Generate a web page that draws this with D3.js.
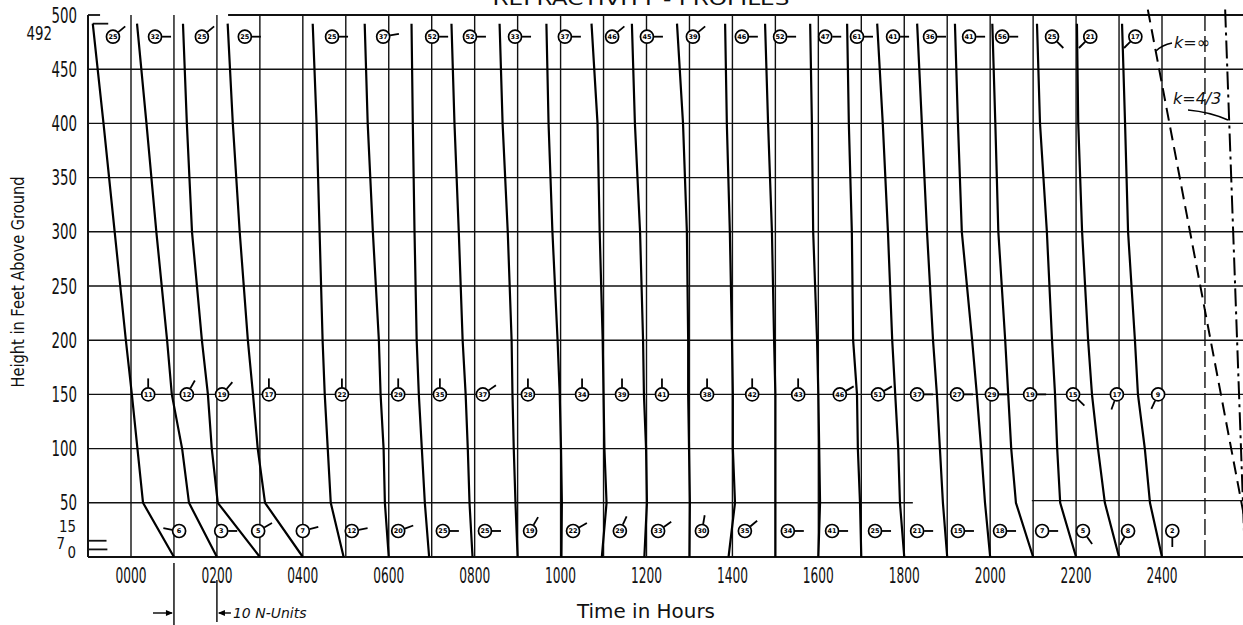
<!DOCTYPE html>
<meta charset="utf-8">
<style>
body { margin: 0; background: #fff; }
svg { display: block; }
.grid { stroke: #111; stroke-width: 1.4px; fill: none; }
.profile { fill: none; stroke: #000; stroke-width: 2.2px; stroke-linejoin: round; }
.num { font-family: 'Liberation Sans Narrow', 'DejaVu Sans Condensed', 'DejaVu Sans', sans-serif; font-size: 21px; fill: #111; }
.lbl { font-family: 'DejaVu Sans', sans-serif; fill: #111; }
.ring circle { fill: #fff; stroke: #000; stroke-width: 1.7px; }
.ring text { font-family: 'DejaVu Sans', sans-serif; font-size: 6.5px; font-weight: bold; fill: #000; }
.ring line { stroke: #000; stroke-width: 1.8px; }
</style>
<svg id="chart" width="1243" height="625"></svg>
<script src="https://d3js.org/d3.v7.min.js"></script>
<script>
// heights (ft) at which each profile is read
const heights = [492, 400, 300, 200, 150, 100, 50, 0];
// profile hours (bottom of each profile sits on its hour line)
const profileHours = d3.range(1, 25);
// offsets in N-units from the hour line, one row per hour, in the order of heights
const profileN = [
  [-18.9, -16.4, -13.8, -11.2, -9.8, -8.5, -7.2, 0],
  [-18.6, -16.4, -14.1, -11.6, -10.5, -8.1, -6.5, 0],
  [-17.9, -17.0, -15.8, -13.5, -12.1, -11.2, -9.8, 0],
  [-17.5, -16.3, -14.7, -12.8, -11.6, -10.5, -8.8, 0],
  [-7.7, -6.8, -6.1, -5.4, -4.9, -4.2, -3.5, -0.5],
  [-5.6, -4.9, -3.7, -2.3, -1.9, -1.2, -0.9, 0],
  [-4.7, -4.4, -4.0, -3.5, -3.0, -2.3, -1.6, -0.6],
  [-5.4, -4.7, -3.7, -2.8, -2.1, -1.6, -1.2, -0.5],
  [-4.2, -3.5, -2.3, -1.4, -1.2, -0.9, -0.5, 0],
  [-3.3, -2.8, -1.9, -0.7, -0.2, 0.1, 0.3, 0.2],
  [-2.8, -1.4, -0.9, -0.2, 0, 0.2, 0.7, -0.4],
  [-3.4, -2.7, -1.5, -0.8, -0.6, -0.1, 0.1, -0.5],
  [-2.9, -1.5, -0.6, -0.3, -0.3, -0.1, 0.1, 0],
  [-1.7, -1.3, -0.6, -0.1, 0.1, 0.1, 0.6, -0.9],
  [-2.4, -1.7, -0.8, -0.3, 0, 0, 0, 0],
  [-1.9, -1.5, -1.2, -0.3, 0, 0.2, 0.4, 0],
  [-3.3, -2.9, -2.2, -1.9, -1.0, -0.8, -0.3, 0],
  [-6.3, -5.0, -3.8, -2.8, -2.1, -1.4, -1.0, 0],
  [-7.0, -5.9, -4.7, -3.3, -2.4, -1.7, -1.0, 0],
  [-8.2, -7.5, -6.6, -4.2, -3.1, -2.1, -1.2, 0],
  [-9.5, -8.8, -8.1, -6.5, -5.8, -5.1, -4.0, 0],
  [-9.1, -8.4, -6.8, -5.6, -4.9, -4.4, -3.7, 0],
  [-9.8, -9.5, -8.6, -7.2, -6.3, -4.9, -3.3, 0],
  [-9.3, -8.6, -7.9, -6.3, -5.6, -4.0, -2.8, 0]
];
// reference gradients, N-units from the 2500 line
const refHeights = [505, 0];
const kInfN = [-13.3, 10.9];
const k43N = [4.7, 9.3];

// circled values: hour position, value, direction of the stub (deg)
const topRowFt = 480;
const topHours = [-0.42, 0.56, 1.65, 2.65, 4.68, 5.87, 7.01, 7.89, 8.94, 10.10, 11.20, 12.01, 13.08, 14.22, 15.11, 16.16, 16.90, 17.74, 18.60, 19.51, 20.28, 21.44, 22.33, 23.38];
const topValues = [25, 32, 25, 25, 25, 37, 52, 52, 33, 37, 46, 45, 39, 46, 52, 47, 61, 41, 36, 41, 56, 25, 21, 17];
const topDirs = [-40, 0, -40, 0, 0, -10, 0, 0, 0, 0, -40, 0, -40, 0, 0, 0, 0, 0, 0, 0, 0, 45, 135, 135];

const midRowFt = 150;
const midHours = [0.40, 1.30, 2.12, 3.21, 4.91, 6.22, 7.19, 8.19, 9.24, 10.50, 11.43, 12.36, 13.41, 14.46, 15.53, 16.50, 17.39, 18.30, 19.23, 20.04, 20.93, 21.93, 22.95, 23.91];
const midValues = [11, 12, 19, 17, 22, 29, 35, 37, 28, 34, 39, 41, 38, 42, 43, 46, 51, 37, 27, 29, 19, 15, 17, 9];
const midDirs = [-90, -60, -50, -90, -90, -90, -90, -35, -90, -90, -90, -90, -90, -90, -90, -30, -30, 0, 0, 0, 0, 45, 110, 115];

const lowRowFt = 24;
const lowHours = [1.12, 2.10, 2.96, 4.00, 5.14, 6.22, 7.26, 8.24, 9.29, 10.29, 11.38, 12.27, 13.29, 14.29, 15.29, 16.32, 17.32, 18.30, 19.25, 20.23, 21.21, 22.16, 23.21, 24.24];
const lowValues = [6, 3, 5, 7, 12, 20, 25, 25, 19, 22, 29, 33, 30, 35, 34, 41, 25, 21, 15, 18, 7, 5, 8, 2];
const lowDirs = [190, 0, -30, -15, -10, -20, 0, 0, -60, -30, -65, -35, -80, -40, 0, 0, 0, 0, 0, 0, 0, 55, 120, 90];

const xTicks = d3.range(0, 25, 2);
const yTicks = d3.range(50, 501, 50);

const svg = d3.select('#chart');
const x = d3.scaleLinear().domain([0, 24]).range([131, 1162]);
const y = d3.scaleLinear().domain([0, 500]).range([557, 15]);
const nUnit = (x(1) - x(0)) / 10;
const hMin = x.invert(88), hMax = x.invert(1243);
const digitW = 8.5;

// title, mostly cut off at the top edge
svg.append('text').attr('class', 'lbl')
  .attr('x', 641).attr('y', 5)
  .attr('text-anchor', 'middle')
  .attr('textLength', 297).attr('lengthAdjust', 'spacingAndGlyphs')
  .style('font-size', '18px')
  .text('REFRACTIVITY - PROFILES');

const grid = svg.append('g');

// horizontal grid
grid.selectAll('line.h')
  .data(yTicks.filter(v => v != 50 && v != 500))
  .join('line').attr('class', 'grid')
  .attr('x1', x(hMin)).attr('x2', x(hMax))
  .attr('y1', d => y(d)).attr('y2', d => y(d));

// 50 ft line in two pieces
const fiftySegs = [[hMin, 18.2, 50], [20.97, hMax, 52]];
grid.selectAll('line.f')
  .data(fiftySegs)
  .join('line').attr('class', 'grid')
  .attr('x1', d => x(d[0])).attr('x2', d => x(d[1]))
  .attr('y1', d => y(d[2])).attr('y2', d => y(d[2]));

// top border and small stubs
grid.append('line').attr('class', 'grid').style('stroke-width', '2px')
  .attr('x1', x(2.26)).attr('x2', x(hMax)).attr('y1', y(500)).attr('y2', y(500));
const stubs = [[500, hMin, -0.72], [492, -0.89, -0.53], [15, hMin, -0.57], [7, hMin, -0.55]];
grid.selectAll('line.s')
  .data(stubs)
  .join('line').attr('class', 'grid').style('stroke-width', '1.8px')
  .attr('x1', d => x(d[1])).attr('x2', d => x(d[2]))
  .attr('y1', d => y(d[0])).attr('y2', d => y(d[0]));

// hour lines
grid.selectAll('line.v')
  .data(d3.range(0, 26))
  .join('line').attr('class', 'grid')
  .attr('x1', d => x(d)).attr('x2', d => x(d))
  .attr('y1', y(500)).attr('y2', y(0))
  .attr('stroke-dasharray', d => d == 25 ? '16,5' : null);

// left axis and bottom axis
grid.append('line').attr('class', 'grid').style('stroke-width', '2px')
  .attr('x1', x(hMin)).attr('x2', x(hMin)).attr('y1', y(500)).attr('y2', y(0));
grid.append('line').attr('class', 'grid').style('stroke-width', '2.2px')
  .attr('x1', x(hMin)).attr('x2', x(hMax)).attr('y1', y(0)).attr('y2', y(0));

// profiles
const line = d3.line();
svg.append('g').selectAll('path')
  .data(profileHours)
  .join('path').attr('class', 'profile')
  .attr('d', (h, i) => line(heights.map((ft, j) => [x(h) + profileN[i][j] * nUnit, y(ft)])));

// reference lines
const refs = [[kInfN, '13,7'], [k43N, '18,5,3,5']];
svg.append('g').selectAll('path')
  .data(refs)
  .join('path').attr('class', 'profile').style('stroke-width', '2px')
  .attr('stroke-dasharray', d => d[1])
  .attr('d', d => line(refHeights.map((ft, j) => [x(25) + d[0][j] * nUnit, y(ft)])));

// k labels with pointer arrows
svg.append('text').attr('class', 'lbl')
  .attr('x', 1174).attr('y', 48)
  .style('font-size', '16px').style('font-style', 'italic')
  .text('k=∞');
svg.append('path').attr('fill', 'none').attr('stroke', '#000').attr('stroke-width', 1.5)
  .attr('d', 'M1172,43 Q1162,45 1156,51');
svg.append('text').attr('class', 'lbl')
  .attr('x', 1173).attr('y', 104)
  .style('font-size', '16px').style('font-style', 'italic')
  .text('k=4/3');
svg.append('path').attr('fill', 'none').attr('stroke', '#000').attr('stroke-width', 1.5)
  .attr('d', 'M1188,110 Q1210,112 1228,120');

// circled values
function rings(hours, values, dirs, ft) {
  const g = svg.append('g').selectAll('g')
    .data(hours.map((h, i) => ({h: h, v: values[i], a: dirs[i]})))
    .join('g').attr('class', 'ring')
    .attr('transform', d => `translate(${x(d.h)},${y(ft)})`);
  g.append('line')
    .attr('x1', d => 7 * Math.cos(d.a * Math.PI / 180))
    .attr('y1', d => 7 * Math.sin(d.a * Math.PI / 180))
    .attr('x2', d => 16 * Math.cos(d.a * Math.PI / 180))
    .attr('y2', d => 16 * Math.sin(d.a * Math.PI / 180));
  g.append('circle').attr('r', 6.5);
  g.append('text').attr('text-anchor', 'middle').attr('dy', '0.36em').text(d => d.v);
}
rings(topHours, topValues, topDirs, topRowFt);
rings(midHours, midValues, midDirs, midRowFt);
rings(lowHours, lowValues, lowDirs, lowRowFt);

// y labels, squeezed to the narrow look of the original lettering
svg.append('g').selectAll('text')
  .data(yTicks)
  .join('text').attr('class', 'num')
  .attr('x', 77).attr('y', d => y(d)).attr('dy', '0.36em')
  .attr('text-anchor', 'end')
  .attr('textLength', d => String(d).length * digitW).attr('lengthAdjust', 'spacingAndGlyphs')
  .text(d => d);
const yExtra = [[492, 52, 9], [15, 76, -15], [7, 65, -6], [0, 76, -5]];
svg.append('g').selectAll('text')
  .data(yExtra)
  .join('text').attr('class', 'num')
  .style('font-size', d => d[0] == 492 ? '19px' : '16px')
  .attr('x', d => d[1]).attr('y', d => y(d[0]) + d[2]).attr('dy', '0.36em')
  .attr('text-anchor', 'end')
  .attr('textLength', d => String(d[0]).length * digitW).attr('lengthAdjust', 'spacingAndGlyphs')
  .text(d => d[0]);

// x labels
svg.append('g').selectAll('text')
  .data(xTicks)
  .join('text').attr('class', 'num')
  .style('font-size', '22px')
  .attr('x', d => x(d)).attr('y', 583)
  .attr('text-anchor', 'middle')
  .attr('textLength', 31).attr('lengthAdjust', 'spacingAndGlyphs')
  .text(d => d3.format('02d')(d) + '00');

// axis titles
svg.append('text').attr('class', 'lbl')
  .attr('x', 646).attr('y', 618)
  .attr('text-anchor', 'middle')
  .attr('textLength', 138).attr('lengthAdjust', 'spacingAndGlyphs')
  .style('font-size', '19px')
  .text('Time in Hours');
svg.append('text').attr('class', 'lbl')
  .attr('transform', 'translate(24,282) rotate(-90)')
  .attr('text-anchor', 'middle')
  .attr('textLength', 211).attr('lengthAdjust', 'spacingAndGlyphs')
  .style('font-size', '17px')
  .text('Height in Feet Above Ground');

// 10 N-units scale note under the axis
const note = svg.append('g').attr('stroke', '#000').attr('stroke-width', 1.4);
note.append('line').attr('x1', x(1)).attr('x2', x(1)).attr('y1', 563).attr('y2', 625);
note.append('line').attr('x1', x(2)).attr('x2', x(2)).attr('y1', 580).attr('y2', 622);
note.append('line').attr('x1', x(1) - 21).attr('x2', x(1) - 2).attr('y1', 613).attr('y2', 613);
note.append('path').attr('fill', '#000').attr('stroke', 'none')
  .attr('d', `M${x(1) - 1},613 l-7,-3 v6 z`);
note.append('line').attr('x1', x(2) + 2).attr('x2', x(2) + 14).attr('y1', 613).attr('y2', 613);
note.append('path').attr('fill', '#000').attr('stroke', 'none')
  .attr('d', `M${x(2) + 1},613 l7,-3 v6 z`);
svg.append('text').attr('class', 'lbl')
  .attr('x', x(2) + 16).attr('y', 618)
  .style('font-size', '14px').style('font-style', 'italic')
  .text('10 N-Units');
</script>
